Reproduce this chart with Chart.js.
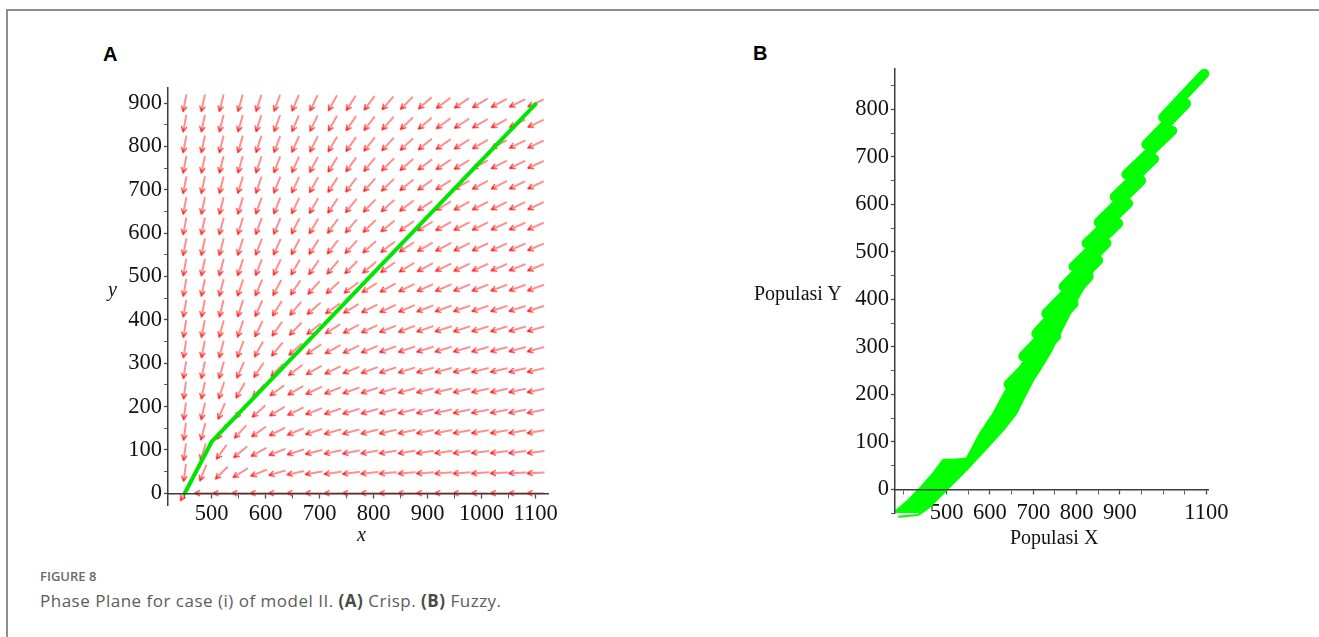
<!DOCTYPE html>
<html>
<head>
<meta charset="utf-8">
<script src="https://cdn.jsdelivr.net/npm/chart.js@4.4.1/dist/chart.umd.min.js"></script>
<style>
html,body{margin:0;padding:0;background:#fff;}
body{width:1319px;height:637px;overflow:hidden;position:relative;}
#frame{position:absolute;left:6px;top:9px;width:1400px;height:700px;border-top:2px solid #8e8e8e;border-left:2px solid #8e8e8e;}
.abs{position:absolute;white-space:nowrap;}
.panel{font-family:'Liberation Sans',Arial,sans-serif;font-weight:bold;font-size:20px;line-height:20px;color:#000;}
.ttl{font-family:'Liberation Serif','Times New Roman',serif;font-size:20px;line-height:20px;color:#111;}
.it{font-style:italic;}
#figno{font-family:'Open Sans',sans-serif;font-weight:600;font-size:13px;line-height:16px;color:#6a6a6a;left:40px;top:568px;}
#cap{font-family:'Open Sans',sans-serif;font-size:17px;line-height:20px;letter-spacing:0.5px;color:#5c5c5c;left:40px;top:591px;}
#cap b{font-weight:700;color:#4a4a4a;}
canvas{position:absolute;}
</style>
</head>
<body>
<div id="frame"></div>
<div class="abs panel" style="left:103px;top:44px;">A</div>
<div class="abs panel" style="left:753px;top:43px;">B</div>
<canvas id="chartA" width="520" height="480" style="left:60px;top:60px;width:520px;height:480px;"></canvas>
<canvas id="chartB" width="440" height="520" style="left:830px;top:50px;width:440px;height:520px;"></canvas>
<div class="abs ttl it" style="left:357px;top:524px;">x</div>
<div class="abs ttl it" style="left:108px;top:279px;">y</div>
<div class="abs ttl" style="left:754px;top:283px;">Populasi Y</div>
<div class="abs ttl" style="left:1010px;top:527px;">Populasi X</div>
<div id="figno" class="abs">FIGURE 8</div>
<div id="cap" class="abs">Phase Plane for case (i) of model II. <b>(A)</b> Crisp. <b>(B)</b> Fuzzy.</div>
<script>
// ---------- Panel A : direction field (crisp) ----------
const fieldX = [450,484,518,553,587,621,655,689,724,758,792,826,861,895,929,963,997,1032,1066,1100];
const fieldY = [900,853,805,758,711,663,616,568,521,474,426,379,332,284,237,189,142,95,47,0];
// arrow direction, degrees below the leftward horizontal (as seen on screen), rows top -> bottom
const fieldAngles = [
 [79,78,76,74,72,70,67,64,61,57,53,49,45,41,37,34,31,28,26,25],
 [79,78,76,74,72,70,67,64,60,56,52,48,44,40,36,33,30,28,26,25],
 [79,78,76,74,72,69,66,63,59,55,51,47,43,39,35,32,30,28,26,25],
 [79,78,76,74,71,69,66,62,58,54,50,45,41,37,34,31,29,27,26,25],
 [79,78,76,73,71,68,65,61,57,53,48,44,39,35,32,30,28,27,26,25],
 [79,78,76,73,70,68,64,60,56,51,46,42,37,33,30,28,27,26,25,25],
 [79,78,75,73,70,67,63,59,54,49,44,39,35,31,29,27,26,25,24,24],
 [79,78,75,72,69,66,62,57,52,47,42,37,33,30,28,26,25,24,23,23],
 [80,78,75,72,69,65,60,55,50,45,40,35,31,28,26,25,24,23,22,22],
 [80,78,75,71,67,62,56,48,42,37,32,29,26,24,23,22,21,21,20,20],
 [80,79,76,72,66,58,50,41,35,31,27,25,23,21,20,19,19,18,18,18],
 [81,79,75,71,64,55,46,38,32,28,25,22,21,19,18,18,17,17,16,16],
 [81,79,75,69,61,51,42,34,29,25,22,20,19,18,17,16,16,15,15,15],
 [81,78,74,66,56,46,37,30,26,22,20,18,17,16,15,14,14,13,13,13],
 [82,78,72,60,47,36,30,25,22,20,18,16,15,14,13,13,12,12,12,12],
 [82,77,67,54,41,31,26,21,19,17,16,15,14,13,12,12,11,11,11,11],
 [82,75,60,47,35,27,22,18,16,15,14,13,12,11,11,10,10,10,10,10],
 [82,72,54,40,29,21,17,14,12,11,10,9,9,8,8,8,7,7,7,7],
 [82,68,45,32,22,16,12,10,8,7,6,5,5,4,4,4,4,3,3,3],
 [60,0,0,0,0,0,0,0,0,0,0,0,0,0,0,0,0,0,0,0]
];
const crispX = [450, 500, 1100];
const crispY = [0, 119, 898];
const xTicksA = [450,500,550,600,650,700,750,800,850,900,950,1000,1050,1100];
const xLabelsA = [500,600,700,800,900,1000,1100];
const yTicksA = [0,50,100,150,200,250,300,350,400,450,500,550,600,650,700,750,800,850,900];
const yLabelsA = [0,100,200,300,400,500,600,700,800,900];

// ---------- Panel B : fuzzy trajectory ----------
// lower body of the band (outline)
const fuzzyX = [381,408,438,469,492,515,546,561,577,608,631,650,700,740,
                836,801,762,739,715,700,684,661,631,592,546,500,461,434,388];
const fuzzyY = [-47,-26,2,34,62,62,65,90,118,160,199,230,300,370,
                455,399,329,287,251,230,202,160,125,86,41,-1,-37,-54,-58];
// staggered thick strokes forming the upper part of the band (upper-right end -> lower-left end)
const strokeX1 = [1095,1053,1021,979,949,919,896,869,850,828,793,753];
const strokeY1 = [875,812,755,696,650,602,560,518,482,448,391,322];
const strokeX2 = [1000,961,915,888,851,823,793,770,730,707,677,643];
const strokeY2 = [783,726,663,616,562,518,469,427,370,328,280,221];
const xTicksB = [400,450,500,550,600,650,700,750,800,850,900,950,1000,1050,1100];
const xLabelsB = [500,600,700,800,900,1100];
const yTicksB = [-50,0,50,100,150,200,250,300,350,400,450,500,550,600,650,700,750,800,850];
const yLabelsB = [0,100,200,300,400,500,600,700,800];

const serif = "'Liberation Serif','Times New Roman',serif";
const GREEN_B = '#00ff00';

function makeArrow() {
  const c = document.createElement('canvas');
  c.width = 22; c.height = 10;
  const g = c.getContext('2d');
  g.strokeStyle = 'rgb(255,30,30)';
  g.lineWidth = 1.2;
  g.lineCap = 'round';
  g.beginPath();
  g.moveTo(2.5, 5); g.lineTo(19.5, 5);
  g.moveTo(19.5, 5); g.lineTo(14.5, 2.5);
  g.moveTo(19.5, 5); g.lineTo(14.5, 7.5);
  g.stroke();
  return c;
}
const arrowImg = makeArrow();

function axis(min, max, ticks, labels, extra, tickOpts) {
  return Object.assign({
    type: 'linear', min: min, max: max,
    afterBuildTicks: s => { s.ticks = ticks.map(v => ({value: v})); },
    grid: {
      drawOnChartArea: false, drawTicks: true, tickLength: 4,
      tickColor: '#4a4a4a',
      tickWidth: c => (c.tick && labels.includes(c.tick.value)) ? 1.3 : 0.9
    },
    border: {display: true, color: '#3c3c3c', width: 1.5, z: 1},
    ticks: Object.assign({
      autoSkip: false, maxRotation: 0, minRotation: 0, padding: 3, color: '#111',
      font: {family: serif, size: 22.5},
      callback: v => labels.includes(v) ? String(v) : ''
    }, tickOpts || {})
  }, extra || {});
}

// ---- Chart A ----
const arrowPts = [], arrowRot = [];
fieldY.forEach((yv, r) => fieldX.forEach((xv, c) => {
  arrowPts.push({x: xv, y: yv});
  arrowRot.push(180 - fieldAngles[r][c]);
}));

new Chart(document.getElementById('chartA'), {
  type: 'scatter',
  data: {
    datasets: [
      {
        data: crispX.map((v, i) => ({x: v, y: crispY[i]})),
        showLine: true, borderColor: '#00e600', borderWidth: 4, pointRadius: 0,
        tension: 0, fill: false, borderCapStyle: 'round', borderJoinStyle: 'round'
      },
      {
        data: arrowPts, pointStyle: arrowImg, pointRotation: arrowRot,
        pointRadius: 6, pointHoverRadius: 6, showLine: false
      }
    ]
  },
  options: {
    responsive: false, animation: false, events: [],
    layout: {padding: {left: 0, top: 28, right: 32, bottom: 35}},
    plugins: {legend: {display: false}, tooltip: {enabled: false}},
    scales: {
      x: axis(419, 1123, xTicksA, xLabelsA, {position: {y: 0}}, {padding: 3}),
      y: axis(-27, 935, yTicksA, yLabelsA, {position: 'left', afterFit: s => { s.width = 108; }}, {padding: 2})
    }
  }
});

// ---- Chart B ----
const bDatasets = [
  {
    data: fuzzyX.map((v, i) => ({x: v, y: fuzzyY[i]})),
    showLine: true, fill: 'shape', backgroundColor: GREEN_B, borderColor: GREEN_B,
    borderWidth: 2, pointRadius: 0, tension: 0, clip: false, borderJoinStyle: 'round'
  }
];
strokeX1.forEach((x1, i) => {
  bDatasets.push({
    data: [{x: x1, y: strokeY1[i]}, {x: strokeX2[i], y: strokeY2[i]}],
    showLine: true, borderColor: GREEN_B, borderWidth: 10, borderCapStyle: 'round',
    pointRadius: 0, fill: false, clip: false
  });
});

new Chart(document.getElementById('chartB'), {
  type: 'scatter',
  data: {datasets: bDatasets},
  options: {
    responsive: false, animation: false, events: [],
    layout: {padding: {left: 0, top: 19, right: 62, bottom: 57}},
    plugins: {legend: {display: false}, tooltip: {enabled: false}},
    scales: {
      x: axis(380.6, 1103.6, xTicksB, xLabelsB, {position: {y: 0}}, {padding: 6}),
      y: axis(-50, 885, yTicksB, yLabelsB, {position: 'left', afterFit: s => { s.width = 65; }}, {padding: 2})
    }
  }
});
</script>
</body>
</html>
